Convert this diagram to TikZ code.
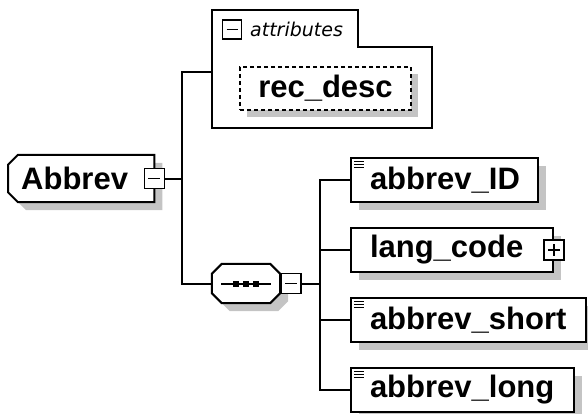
\documentclass[tikz,border=0pt]{standalone}
\usepackage{fontspec}
\setsansfont{Liberation Sans}
\newfontfamily\attrfont{DejaVu Sans}
\usetikzlibrary{positioning, shadows, calc, backgrounds}
\definecolor{ombracol}{HTML}{C4C4C4}
\tikzset{
	% linee di collegamento
	filo/.style={line width=2pt},
	% ombra grigia in basso a destra
	ombra/.style={drop shadow={shadow xshift=#1, shadow yshift=-#1, opacity=1, fill=ombracol}},
	ombra/.default=8pt,
	% contorno smussato (disegnato sullo sfondo)
	contorno/.style={line width=2pt, draw, fill=white, ombra},
	% elemento radice (solo testo, il contorno si disegna dopo)
	radice/.style={rectangle, minimum height=47pt, inner ysep=2pt, inner xsep=13pt, align=left,
	               font=\sffamily\bfseries\fontsize{31}{36}\selectfont},
	% elemento figlio
	elemento/.style={draw, line width=2pt, fill=white, ombra, rectangle, anchor=west,
	                 minimum height=44pt, inner ysep=2pt, inner xsep=19pt, align=left,
	                 font=\sffamily\bfseries\fontsize{31}{36}\selectfont},
	% icona del tipo semplice (tre righe)
	righe/.style={path picture={
	        \foreach \k in {3.5,6.5,9.5}
	          \draw[line width=1.6pt] ([xshift=3pt,yshift=-\k pt]path picture bounding box.north west) -- ++(10,0);}},
	% compositore sequenza (ottagono)
	sequenza/.style={rectangle, minimum width=68pt, minimum height=39pt, inner sep=0pt},
	% attributo opzionale
	attributo/.style={draw, dash pattern=on 4pt off 3pt, line width=1.5pt, fill=white, ombra=7pt,
	                  minimum width=171pt, minimum height=43pt, inner sep=0pt,
	                  font=\sffamily\bfseries\fontsize{31}{36}\selectfont},
	% tasti comprimi / espandi
	meno/.style={draw, fill=white, line width=1.6pt, minimum size=20pt, inner sep=0pt,
	             path picture={\draw[line width=1.6pt] ([xshift=4pt]path picture bounding box.west)
	                                                   -- ([xshift=-4pt]path picture bounding box.east);}},
	piu/.style={draw, fill=white, line width=1.6pt, minimum size=20pt, inner sep=0pt,
	            path picture={\draw[line width=1.6pt] ([xshift=4pt]path picture bounding box.west)
	                                                  -- ([xshift=-4pt]path picture bounding box.east);
	                          \draw[line width=1.6pt] ([yshift=-4pt]path picture bounding box.north)
	                                                  -- ([yshift=4pt]path picture bounding box.south);}},
}

\begin{document}
\begin{tikzpicture}[x=1pt, y=-1pt]
    \useasboundingbox (0,0) rectangle (588,414);

    % gruppo attributi
    \draw[filo, fill=white] (212,10) -- (358,10) -- (358,47) -- (432,47) -- (432,128) -- (212,128) -- cycle;
    \coordinate (attr) at (212,72);
    \node[meno, minimum size=19pt] (tastoattr) at (232,29.5) {};
    \node[anchor=west, font=\attrfont\itshape\fontsize{19}{22}\selectfont, inner sep=0pt] (titoloattr) at (250,29.5) {attributes};
    \node[attributo] (recdesc) at (325.5,88.5) {rec\_desc};

    % radice
    \node[radice, text width=120pt, anchor=west] (abbrev) at (8,178.5) {Abbrev};
    \node[meno] (menoabbrev) at (abbrev.east) {};

    % sequenza
    \node[sequenza] (seq) at (246,283.5) {};
    \draw[filo] ([xshift=-25pt]seq.center) -- ([xshift=25pt]seq.center);
    \foreach \d in {-10,0,10}
      \fill ([xshift=\d pt]seq.center) +(-3,-3) rectangle +(3,3);
    \node[meno, anchor=west] (menoseq) at (seq.east) {};

    % contorni smussati sotto il testo
    \begin{scope}[on background layer]
      \draw[contorno] ([xshift=10pt]abbrev.north west) -- (abbrev.north east) -- (abbrev.south east)
          -- ([xshift=10pt]abbrev.south west) -- ([yshift=10pt]abbrev.south west)
          -- ([yshift=-10pt]abbrev.north west) -- cycle;
      \draw[contorno] ([xshift=10pt]seq.north west) -- ([xshift=-10pt]seq.north east)
          -- ([yshift=-10pt]seq.north east) -- ([yshift=10pt]seq.south east)
          -- ([xshift=-10pt]seq.south east) -- ([xshift=10pt]seq.south west)
          -- ([yshift=10pt]seq.south west) -- ([yshift=-10pt]seq.north west) -- cycle;
    \end{scope}

    % figli della sequenza
    \node[elemento, righe, text width=149pt] (id) at (350,180) {abbrev\_ID};
    \node[elemento, text width=164pt] (lang) at (350,250) {lang\_code};
    \node[piu] (piulang) at (lang.east) {};
    \node[elemento, righe, text width=197pt] (short) at (350,320) {abbrev\_short};
    \node[elemento, righe, text width=185pt] (long) at (350,390) {abbrev\_long};

    % collegamenti
    \coordinate (nodo1) at (182,178.5);
    \coordinate (nodo2) at (320,283.5);
    \draw[filo] (menoabbrev.east) -- (nodo1);
    \draw[filo] (attr) -| (nodo1) |- (seq.west);
    \draw[filo] (menoseq.east) -- (nodo2);
    \draw[filo] (nodo2) |- (id.west);
    \draw[filo] (nodo2) |- (lang.west);
    \draw[filo] (nodo2) |- (short.west);
    \draw[filo] (nodo2) |- (long.west);
\end{tikzpicture}
\end{document}
